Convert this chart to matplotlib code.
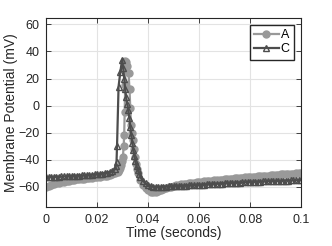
import matplotlib.pyplot as plt

plt.rcParams['font.family'] = ['Liberation Sans', 'DejaVu Sans']

# ── data ───────────────────────────────────────────────────────────────
time_a = [0.000, 0.001, 0.002, 0.003, 0.004, 0.005, 0.006, 0.007, 0.008, 0.009,
          0.010, 0.011, 0.012, 0.013, 0.014, 0.015, 0.016, 0.017, 0.018, 0.019,
          0.020, 0.021, 0.022, 0.023, 0.024, 0.025, 0.026, 0.027, 0.028,
          0.0285, 0.029, 0.0293, 0.0297, 0.0301, 0.0304, 0.0306, 0.0308, 0.031,
          0.0311, 0.0314, 0.0318, 0.0323, 0.0327, 0.033, 0.0333, 0.0337, 0.034,
          0.0344, 0.0348, 0.0352, 0.0356, 0.036,
          0.037, 0.038, 0.039, 0.040, 0.041, 0.042, 0.043, 0.044, 0.045, 0.046,
          0.047, 0.048, 0.049,
          0.050, 0.051, 0.052, 0.053, 0.054, 0.055, 0.056, 0.057, 0.058, 0.059,
          0.060, 0.061, 0.062, 0.063, 0.064, 0.065, 0.066, 0.067, 0.068, 0.069,
          0.070, 0.071, 0.072, 0.073, 0.074, 0.075, 0.076, 0.077, 0.078, 0.079,
          0.080, 0.081, 0.082, 0.083, 0.084, 0.085, 0.086, 0.087, 0.088, 0.089,
          0.090, 0.091, 0.092, 0.093, 0.094, 0.095, 0.096, 0.097, 0.098, 0.099,
          0.100]
volt_a = [-60.0, -59.3, -58.7, -58.1, -57.6, -57.1, -56.7, -56.3, -55.9, -55.6,
          -55.3, -55.0, -54.7, -54.5, -54.2, -54.0, -53.7, -53.5, -53.3, -53.1,
          -52.9, -52.7, -52.4, -52.1, -51.8, -51.4, -50.9, -50.2, -49.2,
          -48.0, -46.0, -44.0, -41.0, -38.0, -30.0, -22.0, -5.0, 15.0,
          33.0, 32.4, 29.0, 24.3, 12.0, -2.0, -14.5, -20.0, -25.6,
          -32.0, -38.0, -43.0, -47.0, -50.0,
          -55.0, -58.5, -61.0, -62.8, -63.8, -64.2, -64.0, -63.5, -62.8, -62.0,
          -61.3, -60.6, -60.0,
          -59.4, -59.0, -58.6, -58.3, -58.0, -57.7, -57.5, -57.2, -57.0, -56.8,
          -56.6, -56.4, -56.2, -56.0, -55.8, -55.6, -55.4, -55.2, -55.0, -54.8,
          -54.6, -54.4, -54.2, -54.0, -53.9, -53.7, -53.5, -53.4, -53.2, -53.1,
          -52.9, -52.7, -52.6, -52.4, -52.3, -52.1, -52.0, -51.8, -51.6, -51.5,
          -51.3, -51.2, -51.0, -50.9, -50.7, -50.6, -50.5, -50.3, -50.2, -50.1,
          -50.0]

time_c = [0.000, 0.001, 0.002, 0.003, 0.004, 0.005, 0.006, 0.007, 0.008, 0.009,
          0.010, 0.011, 0.012, 0.013, 0.014, 0.015, 0.016, 0.017, 0.018, 0.019,
          0.020, 0.021, 0.022, 0.023, 0.024, 0.025, 0.026,
          0.027, 0.0273, 0.0276, 0.0278, 0.0284, 0.0291, 0.0298, 0.0302, 0.0306,
          0.031, 0.0314, 0.0318, 0.0322, 0.0326, 0.033, 0.0334, 0.0338, 0.0342,
          0.0346, 0.035, 0.0355, 0.036, 0.0365, 0.037,
          0.038, 0.039, 0.040, 0.041, 0.042, 0.043, 0.044, 0.045, 0.046, 0.047,
          0.048, 0.049, 0.050, 0.051, 0.052, 0.053, 0.054, 0.055, 0.056, 0.057,
          0.058, 0.059, 0.060, 0.061, 0.062, 0.063, 0.064, 0.065, 0.066, 0.067,
          0.068, 0.069, 0.070, 0.071, 0.072, 0.073, 0.074, 0.075, 0.076, 0.077,
          0.078, 0.079, 0.080, 0.081, 0.082, 0.083, 0.084, 0.085, 0.086, 0.087,
          0.088, 0.089, 0.090, 0.091, 0.092, 0.093, 0.094, 0.095, 0.096, 0.097,
          0.098, 0.099, 0.100]
volt_c = [-53.0, -53.0, -52.9, -52.8, -52.7, -52.6, -52.5, -52.4, -52.3, -52.2,
          -52.1, -52.0, -51.9, -51.8, -51.7, -51.6, -51.5, -51.4, -51.2, -51.0,
          -50.8, -50.6, -50.3, -50.0, -49.6, -49.1, -48.5,
          -47.0, -45.0, -41.5, -30.0, 14.0, 25.0, 34.0, 28.0, 20.0,
          12.0, 6.0, 1.0, -3.5, -9.0, -16.0, -22.0, -28.0, -33.0,
          -37.0, -41.0, -45.0, -48.0, -51.0, -53.0,
          -55.8, -57.6, -59.0, -59.6, -60.0, -60.2, -60.2, -60.2, -60.1, -60.0,
          -59.9, -59.8, -59.7, -59.6, -59.5, -59.4, -59.3, -59.2, -59.1, -59.0,
          -58.9, -58.8, -58.7, -58.6, -58.5, -58.3, -58.2, -58.1, -58.0, -57.9,
          -57.8, -57.7, -57.6, -57.5, -57.4, -57.3, -57.2, -57.1, -57.0, -56.9,
          -56.8, -56.7, -56.6, -56.5, -56.4, -56.4, -56.3, -56.2, -56.1, -56.0,
          -56.0, -55.9, -55.8, -55.7, -55.7, -55.6, -55.5, -55.5, -55.4, -55.3,
          -55.3, -55.2, -55.2]

x_ticks = [0, 0.02, 0.04, 0.06, 0.08, 0.1]
x_labels = ["0", "0.02", "0.04", "0.06", "0.08", "0.1"]
y_ticks = [-60, -40, -20, 0, 20, 40, 60]

# ── figure ────────────────────────────────────────────────────────────
fig = plt.figure(figsize=(3.32, 2.46), dpi=100)
ax = fig.add_axes([0.139, 0.159, 0.768, 0.769])

ax.plot(time_a, volt_a, color="#999999", lw=1.6, marker="o", ms=5,
        mfc="#999999", mec="#999999", label="A")
ax.plot(time_c, volt_c, color="#4d4d4d", lw=1.6, marker="^", ms=5,
        mfc="none", mec="#4d4d4d", mew=1.0, label="C")

ax.set_xlim(0, 0.1)
ax.set_ylim(-75, 65)
ax.set_xticks(x_ticks)
ax.set_xticklabels(x_labels)
ax.set_yticks(y_ticks)

ax.grid(True, color="#e3e3e3", lw=0.8)
ax.set_axisbelow(True)
ax.tick_params(direction="in", top=True, right=True, length=3.5, width=0.6,
               labelsize=9, colors="#262626", pad=5)
for s in ax.spines.values():
    s.set_color("#262626")
    s.set_linewidth(0.8)

ax.set_xlabel("Time (seconds)", fontsize=10, color="#262626", labelpad=0)
ax.set_ylabel("Membrane Potential (mV)", fontsize=10, color="#262626", labelpad=0)

leg = ax.legend(loc="upper right", fontsize=9, frameon=True, fancybox=False,
                handlelength=2.0, borderpad=0.35, labelspacing=0.2,
                handletextpad=0.15, borderaxespad=0.55)
leg.get_frame().set_edgecolor("#262626")
leg.get_frame().set_linewidth(1.0)
leg.get_frame().set_alpha(1)

fig.savefig("out.png", dpi=100)
